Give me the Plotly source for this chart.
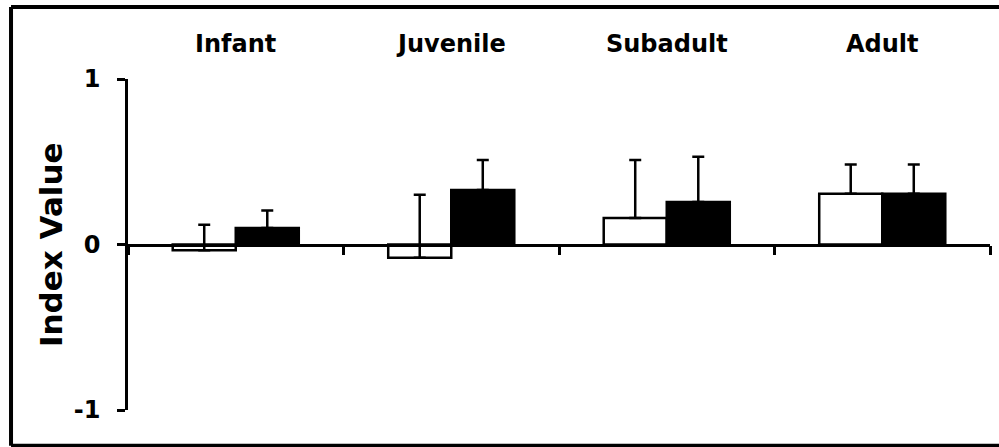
import plotly.graph_objects as go

categories = ["Infant", "Juvenile", "Subadult", "Adult"]
white_values = [-0.035, -0.08, 0.16, 0.307]
white_err_plus = [0.155, 0.38, 0.35, 0.176]
black_values = [0.10, 0.33, 0.257, 0.307]
black_err_plus = [0.105, 0.18, 0.273, 0.176]
y_ticks = [-1, 0, 1]
y_tick_labels = ["-1", "0", "1"]

FONT = "DejaVu Sans"

fig = go.Figure()
fig.add_trace(go.Bar(
    x=categories, y=white_values, name="white",
    marker=dict(color="white", line=dict(color="black", width=2.5)),
    error_y=dict(type="data", symmetric=False, array=white_err_plus,
                 arrayminus=[0] * len(categories), color="black",
                 thickness=2.5, width=6),
))
fig.add_trace(go.Bar(
    x=categories, y=black_values, name="black",
    marker=dict(color="black", line=dict(color="black", width=2.5)),
    error_y=dict(type="data", symmetric=False, array=black_err_plus,
                 arrayminus=[0] * len(categories), color="black",
                 thickness=2.5, width=6),
))

annotations = []
for c in categories:
    annotations.append(dict(
        x=c, xref="x", y=1.106, yref="paper", text=c, showarrow=False,
        xanchor="center", yanchor="middle",
        font=dict(family=FONT, size=24, color="black", weight="bold"),
    ))
annotations.append(dict(
    x=-0.0899, xref="paper", y=0.5, yref="paper", text="Index Value",
    showarrow=False, textangle=-90, xanchor="center", yanchor="middle",
    font=dict(family=FONT, size=31, color="black", weight="bold"),
))

fig.update_layout(
    width=999, height=447,
    margin=dict(l=128, r=9, t=79, b=37),
    paper_bgcolor="white", plot_bgcolor="white",
    barmode="group", bargap=0.415, bargroupgap=0,
    showlegend=False,
    annotations=annotations,
    shapes=[
        dict(type="line", xref="paper", yref="paper",
             x0=-0.1357, x1=1.05, y0=1.2175, y1=1.2175,
             line=dict(color="black", width=4), layer="above"),
        dict(type="line", xref="paper", yref="paper",
             x0=-0.1357, x1=-0.1357, y0=1.2175, y1=-0.108,
             line=dict(color="black", width=4), layer="above"),
        dict(type="line", xref="paper", yref="paper",
             x0=-0.1357, x1=1.05, y0=-0.108, y1=-0.108,
             line=dict(color="black", width=4), layer="above"),
    ],
    xaxis=dict(
        type="category", range=[-0.5, 3.5], anchor="free", position=0.5,
        showline=True, linecolor="black", linewidth=2.5,
        ticks="outside", ticklen=9, tickwidth=2.5, tickcolor="black",
        tickson="boundaries", showticklabels=False, showgrid=False,
        zeroline=False,
    ),
    yaxis=dict(
        range=[-1, 1], tickvals=y_ticks, ticktext=y_tick_labels,
        showline=True, linecolor="black", linewidth=2.5,
        ticks="outside", ticklen=8, tickwidth=2.5, tickcolor="black",
        ticklabelstandoff=12,
        tickfont=dict(family=FONT, size=24, color="black", weight="bold"),
        showgrid=False, zeroline=False,
    ),
)

fig.write_html("out.html", config={"displayModeBar": False},
               post_script="document.body.style.margin='0';document.body.style.overflow='hidden';")
